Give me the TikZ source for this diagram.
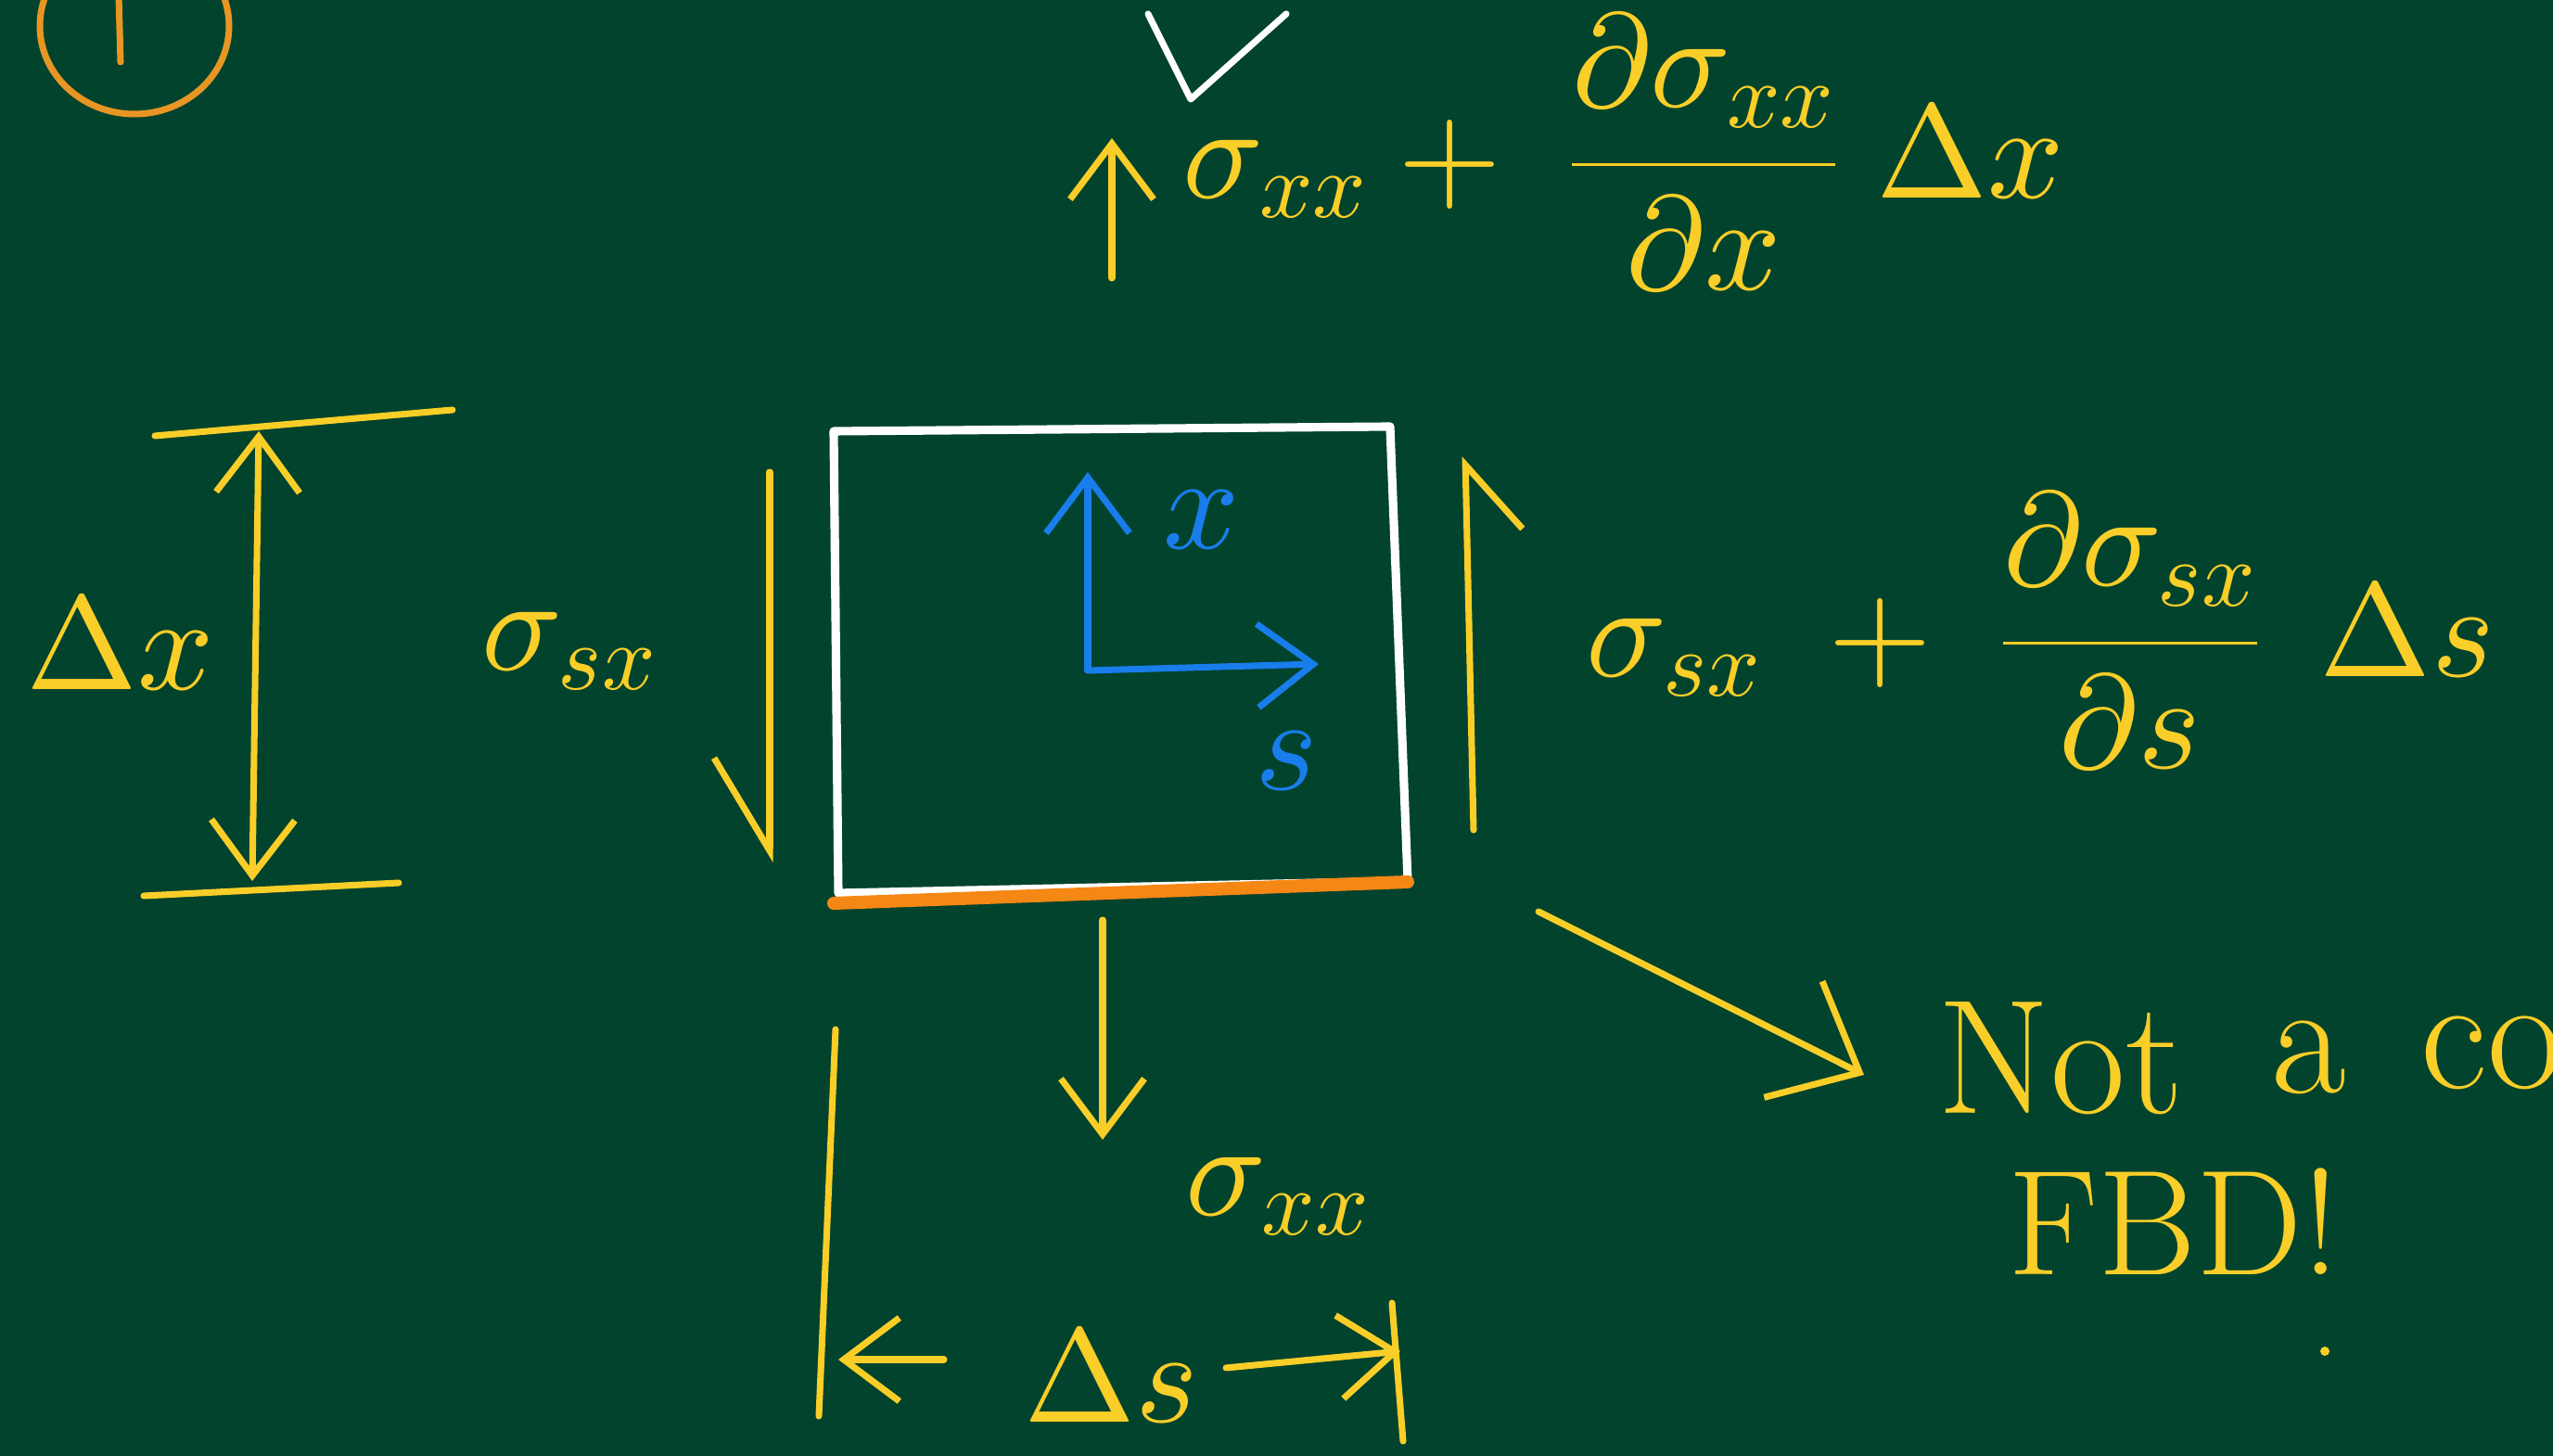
\documentclass[tikz,border=0pt]{standalone}
\usepackage{amsmath}
\usetikzlibrary{arrows.meta}
\DeclareFontShape{OML}{cmm}{m}{it}{<->cmmi10}{}
\DeclareFontShape{OMS}{cmsy}{m}{n}{<->cmsy10}{}
\DeclareFontShape{OT1}{cmr}{m}{n}{<->cmr10}{}
\definecolor{board}{RGB}{1,67,45}
\definecolor{chalkyellow}{RGB}{250,206,40}
\definecolor{chalkorange}{RGB}{232,150,35}
\definecolor{edgeorange}{RGB}{245,135,20}
\definecolor{chalkblue}{RGB}{25,125,235}
\tikzset{
  chalk/.style={line width=2pt,line cap=round,line join=round},
  force/.style={chalk,draw=chalkyellow,->},
  half/.style={chalk,draw=chalkyellow,-{Straight Barb[right,length=#1,width=12mm]}},
  lbl/.style={text=chalkyellow,font=\fontsize{41}{50}\selectfont,inner sep=0pt},
}
\begin{document}
\begin{tikzpicture}[>={Straight Barb[length=6mm,width=9mm]}]
\fill[board] (0,0) rectangle (27.53,15.70);
\clip (0,0) rectangle (27.53,15.70);
% step number and tick
\draw[chalk,chalkorange] (1.45,15.42) ellipse [x radius=1.02,y radius=0.95];
\draw[chalk,chalkorange] (1.28,15.75)--(1.30,15.03);
\draw[chalk,white] (12.38,15.55)--(12.84,14.63)--(13.87,15.55);
% element
\coordinate (A) at (9.04,6.07);
\coordinate (B) at (15.18,6.20);
\coordinate (C) at (14.99,11.10);
\coordinate (D) at (8.99,11.05);
\coordinate (A0) at (8.99,5.96);
\coordinate (B0) at (15.18,6.19);
\draw[chalk,white,line width=2.6pt] (A)--(B)--(C)--(D)--cycle;
\draw[chalk,edgeorange,line width=4pt] (A0)--(B0);
% local axes
\coordinate (O) at (11.73,8.47);
\coordinate (Ox) at (11.73,10.61);
\coordinate (Os) at (14.22,8.54);
\draw[chalk,chalkblue,->] (O)--(Ox);
\draw[chalk,chalkblue,->] (O)--(Os);
\node[lbl,text=chalkblue] (xlab) at (12.96,10.10) {$x$};
\node[lbl,text=chalkblue] (slab) at (13.87,7.50) {$s$};
% stresses on the faces
\coordinate (T0) at (11.99,12.70);
\coordinate (T1) at (11.99,14.21);
\draw[force] (T0)--(T1);
\node[lbl,anchor=west] (topf) at (12.75,14.06)
  {$\sigma_{xx}+\;\dfrac{\partial\sigma_{xx}}{\partial x}\;\Delta x$};
\coordinate (M0) at (11.89,5.78);
\coordinate (M1) at (11.89,3.41);
\draw[force] (M0)--(M1);
\node[lbl] (botf) at (13.78,2.80) {$\sigma_{xx}$};
\coordinate (L0) at (8.30,10.61);
\coordinate (L1) at (8.30,6.40);
\draw[half=10mm] (L0)--(L1);
\node[lbl] (leftf) at (6.14,8.68) {$\sigma_{sx}$};
\coordinate (R0) at (15.89,6.75);
\coordinate (R1) at (15.80,10.78);
\draw[half=7mm] (R0)--(R1);
\node[lbl,anchor=west] (rightf) at (17.10,8.90)
  {$\sigma_{sx}\;+\;\dfrac{\partial\sigma_{sx}}{\partial s}\;\,\Delta s$};
% dimension dx
\coordinate (P1) at (1.67,11.00);
\coordinate (P2) at (4.88,11.28);
\coordinate (Q1) at (1.55,6.04);
\coordinate (Q2) at (4.30,6.18);
\draw[chalk,chalkyellow] (P1)--(P2);
\draw[chalk,chalkyellow] (Q1)--(Q2);
\coordinate (U0) at (2.79,11.05);
\coordinate (U1) at (2.72,6.20);
\draw[chalk,chalkyellow,<->] (U0)--(U1);
\node[lbl] (dxlab) at (1.30,8.76) {$\Delta x$};
% dimension ds
\coordinate (V1) at (9.01,4.60);
\coordinate (V2) at (8.83,0.43);
\coordinate (W1) at (15.01,1.65);
\coordinate (W2) at (15.13,0.16);
\draw[chalk,chalkyellow] (V1)--(V2);
\draw[chalk,chalkyellow] (W1)--(W2);
\node[lbl] (dslab) at (11.98,0.86) {$\Delta s$};
\coordinate (E0) at (10.18,1.04);
\coordinate (E1) at (9.04,1.04);
\coordinate (F0) at (13.22,0.95);
\coordinate (F1) at (15.10,1.13);
\draw[chalk,chalkyellow,->] (E0)--(E1);
\draw[chalk,chalkyellow,->] (F0)--(F1);
% remark
\coordinate (G0) at (16.59,5.87);
\coordinate (G1) at (20.10,4.11);
\draw[chalk,chalkyellow,-{Straight Barb[length=8mm,width=14mm]}] (G0)--(G1);
\node[lbl,anchor=west,font=\fontsize{50}{60}\selectfont] (note1) at (20.89,4.29) {Not};
\node[lbl,font=\fontsize{50}{60}\selectfont] (note2) at (24.90,4.30) {a};
\node[lbl,anchor=west,font=\fontsize{50}{60}\selectfont] (note3) at (26.10,4.35) {co};
\node[lbl,font=\fontsize{46}{56}\selectfont] (note4) at (23.44,2.53) {FBD!};
\fill[chalkyellow] (25.07,1.13) circle (0.05);
\end{tikzpicture}
\end{document}
